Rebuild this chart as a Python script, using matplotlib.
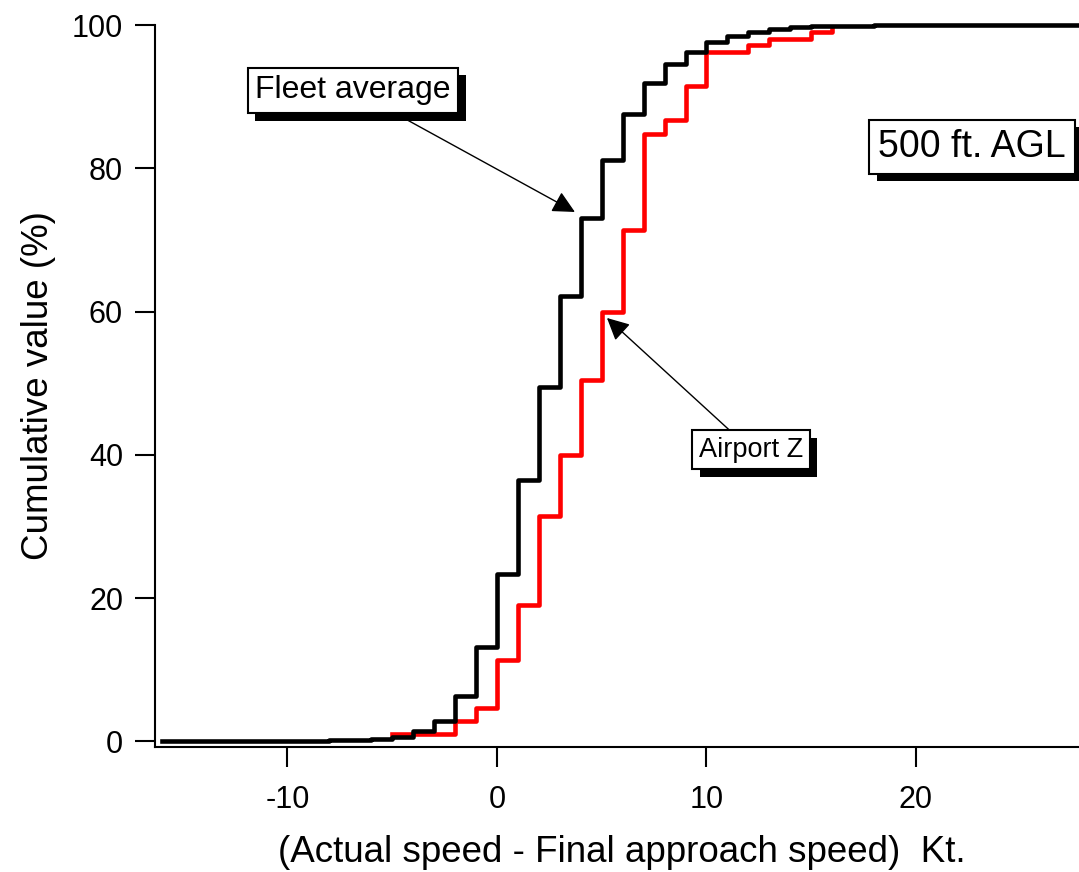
import matplotlib
matplotlib.use('Agg')
import matplotlib.pyplot as plt
import matplotlib.patheffects as pe

plt.rcParams['font.family'] = ['Liberation Sans', 'DejaVu Sans']
plt.rcParams['axes.unicode_minus'] = False

# Fleet average cumulative distribution, one value per knot, step starts at x
fleet_x = list(range(-16, 29))
fleet_y = [0.0, 0.0, 0.0, 0.0, 0.05, 0.05, 0.1, 0.1, 0.15, 0.2, 0.3,
           0.6, 1.4, 2.9, 6.3, 13.1, 23.3, 36.5, 49.4, 62.1, 73.1,
           81.1, 87.6, 91.9, 94.5, 96.3, 97.7, 98.4, 99.0, 99.4, 99.7,
           99.8, 99.85, 99.9, 99.95, 100.0, 100.0, 100.0, 100.0, 100.0,
           100.0, 100.0, 100.0, 100.0, 100.0]

# Airport Z
airport_x = list(range(-5, 17))
airport_y = [1.0, 1.0, 1.0, 2.9, 4.7, 11.4, 19.0, 31.4, 40.0, 50.5, 60.0,
             71.4, 84.8, 86.7, 91.5, 96.2, 96.2, 97.2, 98.0, 98.0, 99.0, 99.7]

x_ticks = [-10, 0, 10, 20]
y_ticks = [0, 20, 40, 60, 80, 100]


def boxed(ax, text, xy, xytext, size):
    box = dict(boxstyle='square,pad=0.24', fc='white', ec='black', lw=1.5)
    if xy is None:
        t = ax.text(xytext[0], xytext[1], text, fontsize=size, ha='center',
                    va='center', bbox=box, zorder=5)
    else:
        t = ax.annotate(text, xy=xy, xytext=xytext, fontsize=size,
                        ha='center', va='center', bbox=box, zorder=5,
                        arrowprops=dict(arrowstyle='-|>', color='black', lw=1,
                                        mutation_scale=34, shrinkA=0, shrinkB=0))
    t.get_bbox_patch().set_path_effects([
        pe.SimplePatchShadow(offset=(5.5, -5.5), shadow_rgbFace='black', alpha=1),
        pe.Normal()])
    return t


fig = plt.figure(figsize=(10.79, 8.72), dpi=100)
ax = fig.add_axes([0.1437, 0.1433, 1.0 - 0.1437, 0.9713 - 0.1433])

ax.step(fleet_x, fleet_y, where='post', color='black', lw=3.3, zorder=3)
ax.step(airport_x, airport_y, where='post', color='#ff0000', lw=3.3, zorder=2)

ax.set_xlim(-16.32, 27.78)
ax.set_ylim(-0.8, 100.0)
ax.set_xticks(x_ticks)
ax.set_yticks(y_ticks)
for s in ['top', 'right']:
    ax.spines[s].set_visible(False)
for s in ['left', 'bottom']:
    ax.spines[s].set_linewidth(1.5)
ax.tick_params(axis='both', direction='out', length=14.5, width=1.5,
               labelsize=22)
ax.tick_params(axis='x', pad=13)
ax.tick_params(axis='y', pad=8.5)

ax.set_xlabel('(Actual speed - Final approach speed)  Kt.', fontsize=26.5)
ax.set_ylabel('Cumulative value (%)', fontsize=26.5)
ax.xaxis.set_label_coords(0.505, -0.122)
ax.yaxis.set_label_coords(-0.107, 0.5)

boxed(ax, 'Fleet average', (3.72, 73.9), (-6.87, 90.9), 23)
boxed(ax, 'Airport Z', (5.25, 59.1), (12.12, 40.7), 19.5)
boxed(ax, '500 ft. AGL', None, (22.67, 83.0), 27)

for line in ax.lines:
    line.set_clip_on(False)

fig.savefig('out.png', dpi=100)
